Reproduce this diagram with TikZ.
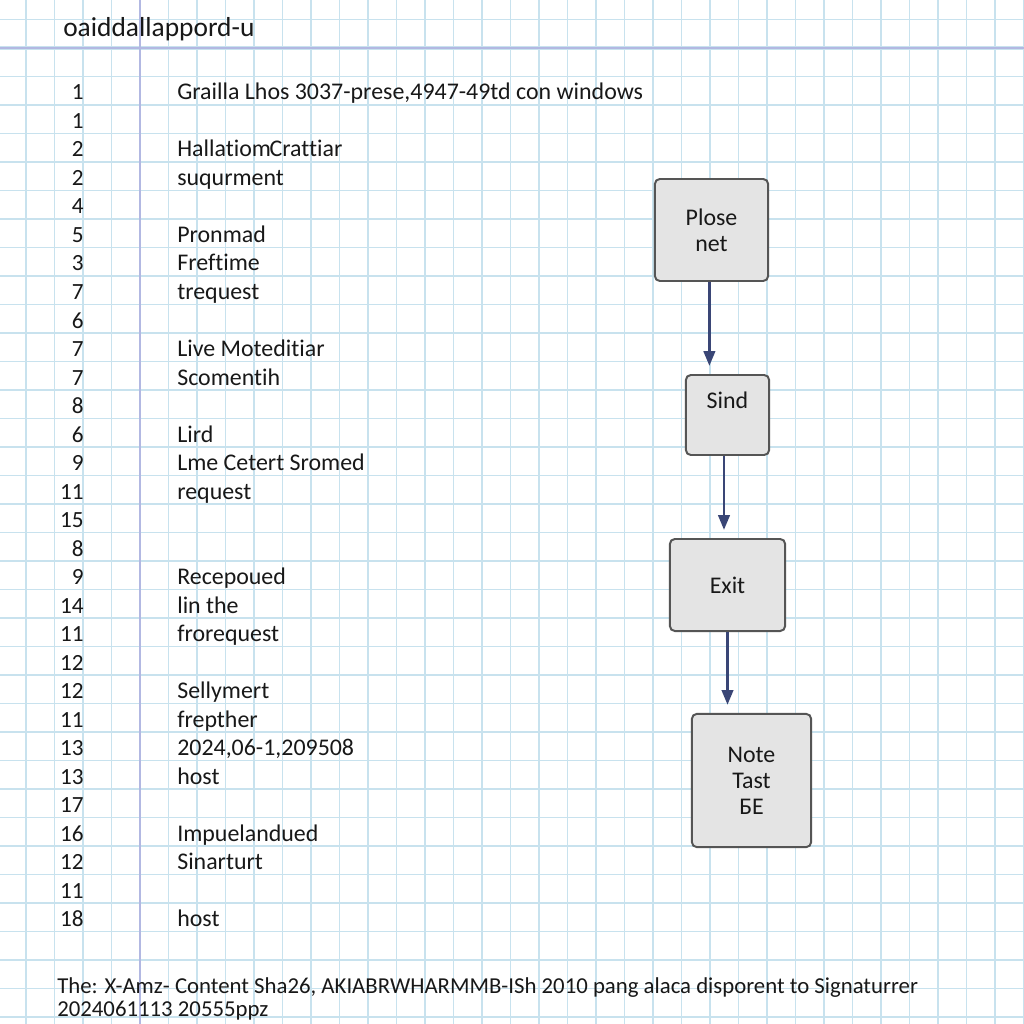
\documentclass[tikz,border=0pt]{standalone}
\usepackage{fontspec}
\setmainfont{Carlito}[Ligatures={NoCommon}]
\usetikzlibrary{arrows.meta}
\definecolor{grid1}{RGB}{200,226,238}
\definecolor{margin1}{RGB}{178,184,226}
\definecolor{box1}{RGB}{228,228,228}
\definecolor{box2}{RGB}{85,85,85}
\definecolor{arrow1}{RGB}{58,70,118}
\definecolor{ink1}{RGB}{24,24,24}

\tikzset{
  gridline/.style={color=grid1, line width=1pt},
  marginline/.style={color=margin1, line width=1.8pt},
  rownum/.style={anchor=base east, inner sep=0pt, text=ink1, font=\fontsize{16.5}{19}\selectfont},
  rowtext/.style={anchor=base west, inner sep=0pt, text=ink1, font=\fontsize{17}{20}\selectfont},
  flowbox/.style={draw=box2, fill=box1, line width=1.4pt, rounded corners=3.5pt,
    align=center, text=ink1, font=\fontsize{17}{18.5}\selectfont},
  flowarrow/.style={-{Triangle[length=10.5pt,width=8pt]}, color=arrow1, line width=2.1pt, shorten >=5.7pt},
}

\begin{document}
\begin{tikzpicture}[x=0.025cm,y=-0.025cm]
\fill[white] (0,0) rectangle (1024,1024);
\useasboundingbox (0,0) rectangle (1024,1024);

% squared paper
\foreach \i in {0,...,36}
{
\draw[gridline] ({-2.5+28.5*\i},0) -- ({-2.5+28.5*\i},1024);
}
\foreach \j in {-1,...,34}
{
\draw[gridline] (0,{48+28.5*\j}) -- (1024,{48+28.5*\j});
}
\draw[color=grid1, line width=3.5pt] (0,48) -- (1024,48);
\draw[marginline] (0,48) -- (1024,48);
\draw[marginline] (140,0) -- (140,1024);

% header
\node[rowtext, font=\fontsize{19.5}{22}\selectfont] (title) at (63,37) {oaiddallappord-u};

% line numbers
\foreach \n [count=\i from 0] in {1,1,2,2,4,5,3,7,6,7,7,8,6,9,11,15,8,9,14,11,12,12,11,13,13,17,16,12,11,18}
{
\node[rownum] (num\i) at (84,{100+28.5*\i}) {\n};
}

% listing
\foreach \r/\t in {0/{Grailla Lhos 3037-prese,4947-49td con windows}, 2/{Hallatiom\kern-1pt Crattiar},
  3/suqurment, 5/Pronmad, 6/Freftime, 7/trequest, 9/Live Moteditiar, 10/Scomentih,
  12/Lird, 13/Lme Cetert Sromed, 14/request, 17/Recepoued, 18/lin the, 19/frorequest,
  21/Sellymert, 22/frepther, 23/{2024,06-1,209508}, 24/host, 26/Impuelandued,
  27/Sinarturt, 29/host}
{
\node[rowtext] (line\r) at (177,{100+28.5*\r}) {\t};
}

% flow
\node[flowbox, minimum width=2.83cm, minimum height=2.55cm] (plose) at (711.5,230) {Plose\\net};
\node[flowbox, minimum width=2.08cm, minimum height=2cm, text depth=0.75cm] (sind) at (727.5,415) {Sind};
\node[flowbox, minimum width=2.88cm, minimum height=2.3cm] (exit) at (727.5,585) {Exit};
\node[flowbox, minimum width=2.98cm, minimum height=3.33cm] (note) at (751.5,780.5) {Note\\Tast\\БE};

\draw[flowarrow] ([xshift=-1.5]plose.south) -- ([xshift=-1.5]plose.south |- sind.north);
\draw[flowarrow] ([xshift=-2.5]sind.south) -- ([xshift=-2.5]sind.south |- exit.north);
\draw[flowarrow] (exit.south) -- (exit.south |- note.north);

% footer
\node[rowtext, font=\fontsize{16.2}{19}\selectfont] (foot1) at (57,993) {The: X-Amz- Content Sha26, AKIABRWHARMMB-ISh 2010 pang alaca disporent to Signaturrer};
\node[rowtext, font=\fontsize{16.2}{19}\selectfont] (foot2) at (57,1016) {2024061113 20555ppz};
\end{tikzpicture}
\end{document}
